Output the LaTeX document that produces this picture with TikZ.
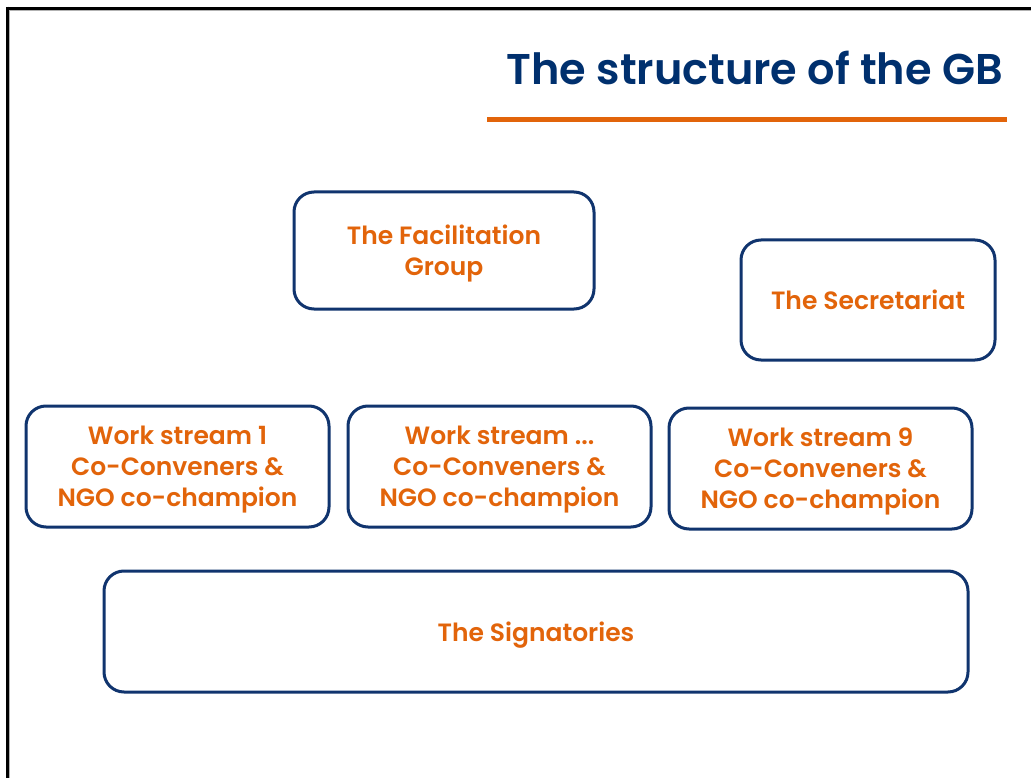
\documentclass[tikz,border=0pt]{standalone}
\usepackage{fontspec}
\setmainfont{Poppins}[BoldFont={Poppins SemiBold}]
\usepackage{xcolor}
\usetikzlibrary{positioning}
\definecolor{gbblue}{RGB}{0,48,110}
\definecolor{gbframe}{RGB}{16,52,110}
\definecolor{gborange}{RGB}{226,100,10}

\begin{document}
\begin{tikzpicture}[x=1pt, y=-1pt,
		gbbox/.style={
			draw=gbframe,
			line width=3pt,
			rounded corners=20pt,
			align=center,
			text=gborange,
			font=\fontsize{25}{31}\selectfont\bfseries,
			text depth=-2pt,
			inner sep=0pt
		}]
		\useasboundingbox[fill=white] (0,0) rectangle (1031,778);
		
		% page frame
		\draw[line width=3.3pt] (7.5,8.3) -- (1031,8.3);
		\draw[line width=3.3pt] (7.5,6.6) -- (7.5,778);
		\draw[gray!60, line width=1pt] (9.2,10.5) -- (1031,10.5);
		\draw[gray!60, line width=1pt] (9.5,10.2) -- (9.5,778);
		
		% title
		\node[anchor=base east, text=gbblue, font=\fontsize{43}{50}\selectfont\bfseries, inner sep=0pt] (title) at (1003,85) {The structure of the GB};
		\draw[gborange, line width=5pt] (487,119.5) -- (1007,119.5);
		
		\node[gbbox, minimum width=300pt, minimum height=117pt] (facil) at (444,250.5) {The Facilitation\\Group};
		\node[gbbox, minimum width=254pt, minimum height=120pt] (secr) at (868,300) {The Secretariat};
		
		\node[gbbox, minimum width=303pt, minimum height=121pt] (ws1) at (177.5,466.5) {Work stream 1\\Co-Conveners \&\\NGO co-champion};
		\node[gbbox, minimum width=303pt, minimum height=121pt] (wsdots) at (499.5,466.5) {Work stream ...\\Co-Conveners \&\\NGO co-champion};
		\node[gbbox, minimum width=303pt, minimum height=121pt] (ws9) at (820.5,468.5) {Work stream 9\\Co-Conveners \&\\NGO co-champion};
		
		\node[gbbox, minimum width=864pt, minimum height=121pt] (sign) at (536,631.5) {The Signatories};
	\end{tikzpicture}
\end{document}
